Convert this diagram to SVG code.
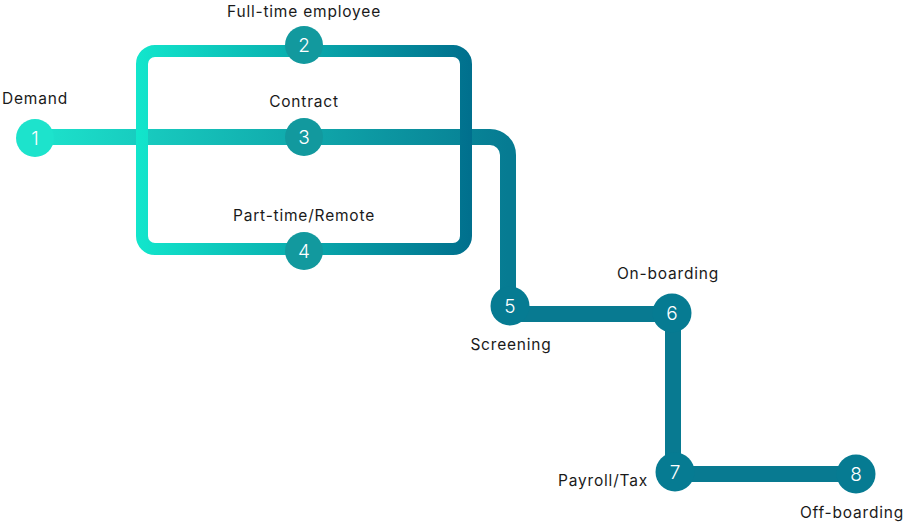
<svg xmlns="http://www.w3.org/2000/svg" width="904" height="524" viewBox="0 0 904 524">
<style>
.lbl{font-family:"Inter","Noto Sans","Liberation Sans",sans-serif;font-size:15.5px;letter-spacing:0.8px;fill:#1a1a1a}
.num{font-family:"Inter","Noto Sans","Liberation Sans",sans-serif;font-size:19px;font-weight:300;fill:#ffffff;text-anchor:middle}
.n1{fill:#1de3cc}
.nm{fill:#12999e}
.nd{fill:#067b92}
</style>
<defs>
<linearGradient id="gMain" gradientUnits="userSpaceOnUse" x1="35" y1="0" x2="508" y2="0">
<stop offset="0" stop-color="#1de3cc"/>
<stop offset="1" stop-color="#067b92"/>
</linearGradient>
<linearGradient id="gLoop" gradientUnits="userSpaceOnUse" x1="136" y1="0" x2="472" y2="0">
<stop offset="0" stop-color="#12e6cc"/>
<stop offset="1" stop-color="#006f8d"/>
</linearGradient>
</defs>
<g id="connectors" fill="none">
<path d="M35,137 H490 A18,18 0 0 1 508,155 V306" stroke="url(#gMain)" stroke-width="16"/>
<path d="M510,314 H673 V474 H856" stroke="#087a91" stroke-width="16"/>
<rect x="142" y="51" width="324" height="198" rx="13" stroke="url(#gLoop)" stroke-width="12"/>
</g>
<g id="node1"><circle class="n1" cx="35" cy="138" r="19"/><text class="num" x="35" y="145">1</text><text class="lbl" x="2" y="104">Demand</text></g>
<g id="node2"><circle class="nm" cx="304" cy="45" r="19"/><text class="num" x="304" y="52">2</text><text class="lbl" x="304" y="17" text-anchor="middle">Full-time employee</text></g>
<g id="node3"><circle class="nm" cx="304" cy="137" r="19"/><text class="num" x="304" y="144">3</text><text class="lbl" x="304" y="107" text-anchor="middle">Contract</text></g>
<g id="node4"><circle class="nm" cx="304" cy="251" r="19"/><text class="num" x="304" y="258">4</text><text class="lbl" x="304" y="221" text-anchor="middle">Part-time/Remote</text></g>
<g id="node5"><circle class="nd" cx="510" cy="306" r="19.5"/><text class="num" x="510" y="313">5</text><text class="lbl" x="511" y="350" text-anchor="middle">Screening</text></g>
<g id="node6"><circle class="nd" cx="672" cy="313" r="19.5"/><text class="num" x="672" y="320">6</text><text class="lbl" x="668" y="279" text-anchor="middle">On-boarding</text></g>
<g id="node7"><circle class="nd" cx="675" cy="472" r="19.5"/><text class="num" x="675" y="479">7</text><text class="lbl" x="648" y="486" text-anchor="end">Payroll/Tax</text></g>
<g id="node8"><circle class="nd" cx="856" cy="474" r="19.5"/><text class="num" x="856" y="481">8</text><text class="lbl" x="852" y="518" text-anchor="middle">Off-boarding</text></g>
</svg>
